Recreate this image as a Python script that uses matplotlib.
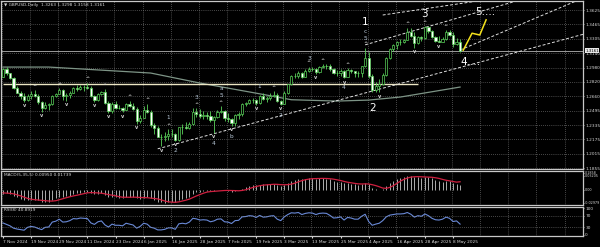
import numpy as np
import matplotlib
matplotlib.use("Agg")
import matplotlib.pyplot as plt
import matplotlib.transforms as mtransforms

# GBPUSD daily bars, 7 Nov 2024 .. 12 May 2025
opens = [1.2880,1.2960,1.2915,1.2860,1.2750,1.2700,1.2665,1.2615,1.2665,1.2680,
         1.2660,1.2590,1.2530,1.2565,1.2570,1.2665,1.2685,1.2730,1.2665,1.2670,
         1.2700,1.2750,1.2745,1.2765,1.2760,1.2755,1.2660,1.2620,1.2685,1.2705,
         1.2580,1.2495,1.2575,1.2530,1.2530,1.2505,1.2575,1.2550,1.2515,1.2380,
         1.2420,1.2510,1.2480,1.2340,1.2300,1.2205,1.2200,1.2210,1.2240,1.2240,
         1.2170,1.2310,1.2320,1.2305,1.2350,1.2480,1.2465,1.2435,1.2450,1.2440,
         1.2395,1.2425,1.2480,1.2495,1.2410,1.2405,1.2360,1.2445,1.2455,1.2575,
         1.2585,1.2620,1.2615,1.2585,1.2665,1.2630,1.2635,1.2665,1.2675,1.2605,
         1.2575,1.2700,1.2795,1.2890,1.2885,1.2920,1.2880,1.2940,1.2965,1.2960,
         1.2935,1.2990,1.3000,1.2995,1.2965,1.2915,1.2920,1.2945,1.2880,1.2950,
         1.2940,1.2915,1.2915,1.2995,1.3090,1.2890,1.2730,1.2770,1.2800,1.2895,
         1.3085,1.3190,1.3230,1.3265,1.3265,1.3290,1.3380,1.3335,1.3255,1.3325,
         1.3310,1.3440,1.3395,1.3325,1.3280,1.3270,1.3300,1.3380,1.3345,1.3245,
         1.3263]
highs = [1.2975,1.2990,1.2920,1.2870,1.2770,1.2715,1.2690,1.2680,1.2715,1.2725,
         1.2680,1.2610,1.2600,1.2585,1.2675,1.2700,1.2750,1.2735,1.2700,1.2720,
         1.2765,1.2780,1.2785,1.2785,1.2810,1.2770,1.2670,1.2690,1.2720,1.2740,
         1.2610,1.2590,1.2605,1.2560,1.2540,1.2580,1.2610,1.2580,1.2535,1.2445,
         1.2550,1.2575,1.2500,1.2355,1.2325,1.2240,1.2260,1.2290,1.2290,1.2250,
         1.2315,1.2345,1.2375,1.2370,1.2525,1.2525,1.2520,1.2490,1.2480,1.2490,
         1.2440,1.2505,1.2550,1.2510,1.2475,1.2410,1.2465,1.2480,1.2585,1.2600,
         1.2630,1.2640,1.2625,1.2675,1.2690,1.2660,1.2690,1.2715,1.2690,1.2620,
         1.2720,1.2800,1.2900,1.2920,1.2945,1.2935,1.2965,1.2990,1.2985,1.2970,
         1.3000,1.3015,1.3015,1.3015,1.2975,1.2955,1.2960,1.2955,1.2970,1.2965,
         1.2945,1.2945,1.3000,1.3205,1.3150,1.2905,1.2820,1.2850,1.2920,1.3100,
         1.3200,1.3245,1.3275,1.3295,1.3300,1.3425,1.3425,1.3375,1.3335,1.3335,
         1.3445,1.3445,1.3400,1.3335,1.3330,1.3325,1.3400,1.3400,1.3375,1.3310,
         1.3298]
lows = [1.2875,1.2900,1.2855,1.2740,1.2690,1.2630,1.2600,1.2605,1.2625,1.2645,
        1.2575,1.2487,1.2520,1.2510,1.2560,1.2650,1.2680,1.2620,1.2610,1.2640,
        1.2690,1.2715,1.2730,1.2715,1.2735,1.2650,1.2600,1.2610,1.2670,1.2570,
        1.2475,1.2475,1.2520,1.2515,1.2480,1.2500,1.2540,1.2500,1.2350,1.2360,
        1.2415,1.2475,1.2320,1.2240,1.2200,1.2100,1.2160,1.2170,1.2200,1.2160,
        1.2160,1.2240,1.2290,1.2290,1.2340,1.2425,1.2410,1.2405,1.2405,1.2370,
        1.2250,1.2420,1.2470,1.2380,1.2375,1.2330,1.2330,1.2400,1.2440,1.2550,
        1.2570,1.2580,1.2560,1.2570,1.2615,1.2600,1.2615,1.2650,1.2590,1.2560,
        1.2570,1.2680,1.2780,1.2865,1.2860,1.2860,1.2870,1.2930,1.2940,1.2910,
        1.2925,1.2970,1.2965,1.2940,1.2910,1.2890,1.2890,1.2860,1.2875,1.2915,
        1.2875,1.2880,1.2880,1.2990,1.2860,1.2710,1.2710,1.2705,1.2790,1.2890,
        1.3080,1.3165,1.3190,1.3230,1.3255,1.3285,1.3320,1.3205,1.3245,1.3275,
        1.3300,1.3370,1.3315,1.3265,1.3265,1.3265,1.3290,1.3335,1.3215,1.3235,
        1.3158]
closes = [1.2960,1.2915,1.2860,1.2750,1.2700,1.2665,1.2615,1.2665,1.2680,1.2660,
          1.2590,1.2530,1.2565,1.2570,1.2665,1.2685,1.2730,1.2665,1.2670,1.2700,
          1.2750,1.2745,1.2765,1.2760,1.2755,1.2660,1.2620,1.2685,1.2705,1.2580,
          1.2495,1.2575,1.2530,1.2530,1.2505,1.2575,1.2550,1.2515,1.2380,1.2420,
          1.2510,1.2480,1.2340,1.2300,1.2205,1.2200,1.2210,1.2240,1.2240,1.2170,
          1.2310,1.2320,1.2305,1.2350,1.2480,1.2465,1.2435,1.2450,1.2440,1.2395,
          1.2425,1.2480,1.2495,1.2410,1.2405,1.2360,1.2445,1.2455,1.2575,1.2585,
          1.2620,1.2615,1.2585,1.2665,1.2630,1.2635,1.2665,1.2675,1.2605,1.2575,
          1.2700,1.2795,1.2890,1.2885,1.2920,1.2880,1.2940,1.2965,1.2960,1.2935,
          1.2990,1.3000,1.2995,1.2965,1.2915,1.2920,1.2945,1.2880,1.2950,1.2940,
          1.2915,1.2915,1.2995,1.3090,1.2890,1.2730,1.2770,1.2800,1.2895,1.3085,
          1.3190,1.3230,1.3265,1.3265,1.3290,1.3380,1.3335,1.3255,1.3325,1.3310,
          1.3440,1.3395,1.3325,1.3280,1.3270,1.3300,1.3380,1.3345,1.3245,1.3265,
          1.3161]

# MACD(5,35,5): main (histogram) and signal, in units of 0.001
macd_main = [-8.0,-7.5,-9.0,-12.5,-16.0,-19.0,-22.0,-22.0,-21.5,-21.0,
             -22.5,-25.0,-25.5,-25.5,-22.0,-18.5,-15.0,-14.5,-13.8,-12.2,
             -9.5,-7.8,-5.9,-4.8,-4.2,-6.4,-9.1,-8.7,-7.7,-10.4,
             -14.7,-14.8,-16.0,-16.4,-17.2,-15.3,-14.5,-14.6,-18.2,-19.0,
             -16.7,-15.7,-18.5,-21.2,-25.0,-27.1,-27.7,-26.8,-25.6,-26.3,
             -22.4,-19.2,-17.3,-14.5,-8.8,-5.6,-4.3,-3.0,-2.3,-3.1,
             -2.8,-1.0,0.6,-0.8,-1.8,-3.7,-2.4,-1.3,2.8,5.6,
             8.2,9.6,9.5,11.5,11.6,11.7,12.3,12.7,10.7,8.4,
             10.3,13.9,18.4,20.8,23.0,22.9,24.0,24.9,25.0,23.9,
             24.4,24.6,24.0,22.4,19.6,17.6,16.7,14.0,13.9,13.4,
             12.1,11.1,12.4,15.6,11.8,4.7,1.3,0.0,1.8,8.2,
             15.0,20.1,23.8,25.7,27.2,30.1,30.1,27.4,27.1,26.0,
             28.3,28.1,25.4,22.1,19.2,17.9,18.9,18.3,14.8,12.9,
             9.5]
macd_signal = [-6.5,-7.0,-7.5,-8.5,-10.6,-12.8,-15.7,-18.3,-20.1,-21.1,
               -21.8,-22.4,-23.1,-23.9,-24.1,-23.3,-21.3,-19.1,-16.8,-14.8,
               -13.0,-11.6,-9.8,-8.0,-6.4,-5.8,-6.1,-6.6,-7.2,-8.5,
               -10.1,-11.3,-12.7,-14.5,-15.8,-15.9,-15.9,-15.6,-16.0,-16.3,
               -16.6,-16.8,-17.6,-18.2,-19.4,-21.5,-23.9,-25.6,-26.4,-26.7,
               -25.8,-24.1,-22.2,-19.9,-16.4,-13.1,-10.1,-7.2,-4.8,-3.7,
               -3.1,-2.4,-1.7,-1.4,-1.2,-1.3,-1.6,-2.0,-1.3,0.2,
               2.6,5.0,7.1,8.9,10.1,10.8,11.3,12.0,11.8,11.2,
               10.9,11.2,12.3,14.4,17.3,19.8,21.8,23.1,24.0,24.1,
               24.4,24.6,24.4,23.9,23.0,21.6,20.1,18.1,16.4,15.1,
               14.0,12.9,12.6,12.9,12.6,11.1,9.2,6.7,3.9,3.2,
               5.3,9.0,13.8,18.6,22.4,25.4,27.4,28.1,28.4,28.1,
               27.8,27.4,27.0,26.0,24.6,22.5,20.7,19.3,17.8,16.6,
               17.4]
rsi = [45,40,35,27,24,22,20,30,33,31,
       26,22,30,31,48,51,58,48,49,53,
       60,59,62,61,60,45,40,49,52,38,
       31,41,37,37,35,44,41,38,27,33,
       44,41,30,27,21,21,23,28,28,23,
       42,44,42,48,61,59,55,56,55,49,
       52,58,59,49,48,43,53,54,66,67,
       70,69,64,71,65,66,69,70,58,53,
       66,74,80,79,81,74,78,80,79,74,
       78,79,78,71,62,63,66,55,64,62,
       58,58,68,75,50,37,41,44,53,66,
       72,74,76,76,77,81,75,65,70,68,
       76,70,61,56,55,58,65,61,50,52,
       41]

# 100-period moving average, vertices
ma_bars = [0, 13, 42, 56, 75, 82, 95, 104, 113, 130]
ma_vals = [1.2986, 1.2986, 1.2919, 1.2807, 1.2672, 1.2620, 1.2605, 1.2616, 1.2650, 1.2762]

# drawn objects (trend lines given by their two end points: bar, price)
level_price = 1.2795
level_bars = [0, 118]
trend_lines = [([44, 165], [1.2070, 1.3353]),     # long support line
               ([103, 146], [1.3235, 1.3726]),    # channel top from wave 1
               ([108, 135], [1.3569, 1.3726]),    # upper line over wave 3
               ([130, 163], [1.3177, 1.3726])]    # line from wave 4
proj_bars = [130.9, 133.4, 135.6, 137.4]
proj_vals = [1.3175, 1.3365, 1.3345, 1.3515]

up_fractals = [9, 16, 24, 29, 36, 41, 47, 55, 62, 77, 87, 91, 98, 103, 115, 120, 126]
down_fractals = [6, 11, 18, 26, 30, 34, 38, 45, 49, 60, 65, 72, 79, 89, 97, 107, 117, 124]

# small wave marks: text, bar, above/below, offset in px
small_waves = [('1', 47, 'hi', 12), ('2', 49, 'lo', 10), ('3', 55, 'hi', 11), ('4', 60, 'lo', 11),
               ('5', 62, 'hi', 10), ('a', 62, 'hi', 17), ('b', 65, 'lo', 11), ('1', 73, 'hi', 8),
               ('2', 79, 'lo', 10), ('3', 87, 'hi', 8), ('4', 97, 'lo', 9),
               ('5', 103, 'hi', 9), ('c', 103, 'hi', 16)]
big_waves = [('1', 103, 'hi', 26), ('2', 105, 'lo', 16), ('3', 120, 'hi', 12), ('4....', 130, 'lo', 10)]

price_ticks = [1.3625, 1.3465, 1.3305, 1.3140, 1.2980, 1.2820, 1.2660, 1.2495, 1.2335, 1.2175, 1.2015, 1.1855]
dates = ['7 Nov 2024', '19 Nov 2024', '29 Nov 2024', '11 Dec 2024', '23 Dec 2024', '6 Jan 2025',
         '16 Jan 2025', '28 Jan 2025', '7 Feb 2025', '19 Feb 2025', '3 Mar 2025', '13 Mar 2025',
         '25 Mar 2025', '4 Apr 2025', '16 Apr 2025', '28 Apr 2025', '8 May 2025']
date_bars = [0, 8, 16, 24, 32, 40, 48, 56, 64, 72, 80, 88, 96, 104, 112, 120, 128]
grid_bars = [0, 8, 16, 24, 32, 40, 48, 56, 64, 72, 80, 88, 96, 104, 112, 120, 128, 136, 144, 152, 160]

opens = np.array(opens); highs = np.array(highs); lows = np.array(lows); closes = np.array(closes)
x = np.arange(len(closes))

W, H = 600.0, 247.0
def box(x0, y0, x1, y1):
    return [x0 / W, 1 - y1 / H, (x1 - x0) / W, (y1 - y0) / H]

fig = plt.figure(figsize=(6.0, 2.47), dpi=100, facecolor='black')
ax = fig.add_axes(box(1, 1, 583, 169))
am = fig.add_axes(box(1, 171, 583, 205), sharex=ax)
ar = fig.add_axes(box(1, 207, 583, 236), sharex=ax)

txt = '#d8d8d8'
gridc = '#8c8c8c'
fs = 3.1
for a in (ax, am, ar):
    a.set_facecolor('black')
    for s in a.spines.values():
        s.set_color('#c8c8c8')
        s.set_linewidth(0.9)
    a.yaxis.tick_right()
    a.tick_params(axis='y', labelsize=fs, colors=txt, length=1, width=0.5, pad=0.6)
    a.tick_params(axis='x', length=0, labelbottom=False)
    for g in grid_bars:
        a.axvline(g - 0.3, color=gridc, lw=0.5, ls=(0, (1, 2)), zorder=0)
ax.set_xlim(-0.57, 164.96)

# ---- main price panel
ax.set_ylim(1.1844, 1.3726)
ax.set_yticks(price_ticks)
ax.set_yticklabels(['%.4f' % p for p in price_ticks])
for p in price_ticks:
    ax.axhline(p, color=gridc, lw=0.5, ls=(0, (1, 2)), zorder=0)

green = '#5ad25a'
ax.plot(ma_bars, ma_vals, color='#7d9486', lw=0.9, zorder=1)
ax.hlines(level_price, level_bars[0], level_bars[1], color='#ece6c4', lw=1.0, zorder=1)
ax.axhline(closes[-1], color='#b4b4b4', lw=0.6, zorder=1)
for tb, tv in trend_lines:
    ax.plot(tb, tv, color='#e0e0e0', lw=0.7, ls=(0, (3, 2)), zorder=1)

up = closes >= opens
ax.vlines(x, lows, highs, color=green, lw=0.6, zorder=2)
ax.bar(x[up], (closes - opens)[up], bottom=opens[up], width=0.62, color='black',
       edgecolor=green, linewidth=0.5, zorder=3)
ax.bar(x[~up], (opens - closes)[~up], bottom=closes[~up], width=0.62, color='white',
       edgecolor=green, linewidth=0.5, zorder=3)

ax.plot(proj_bars, proj_vals, color='#f4e21c', lw=1.1, zorder=4)

for i in up_fractals:
    ax.annotate('^', (i, highs[i]), xytext=(0, 1), textcoords='offset points',
                ha='center', va='bottom', fontsize=3.6, color='#d0d0d0', fontweight='bold')
for i in down_fractals:
    ax.annotate('v', (i, lows[i]), xytext=(0, -1), textcoords='offset points',
                ha='center', va='top', fontsize=3.6, color='#d0d0d0', fontweight='bold')

px = 0.72
for t, i, side, off in small_waves:
    yv = highs[i] if side == 'hi' else lows[i]
    sgn = 1 if side == 'hi' else -1
    ax.annotate(t, (i, yv), xytext=(0, sgn * off * px), textcoords='offset points',
                ha='center', va='center', fontsize=4.2, color='#b8c8d8')
for t, i, side, off in big_waves:
    yv = highs[i] if side == 'hi' else lows[i]
    sgn = 1 if side == 'hi' else -1
    ax.annotate(t, (i, yv), xytext=(0, sgn * off * px), textcoords='offset points',
                ha='left' if len(t) > 1 else 'center', va='center', fontsize=7.5, color='white')
ax.annotate('5....', (proj_bars[-1], proj_vals[-1]), xytext=(-8, 6), textcoords='offset points',
            ha='left', va='center', fontsize=7.5, color='white')

ax.text(0.006, 0.988, '\u25bc GBPUSD,Daily  1.3263 1.3298 1.3158 1.3161', transform=ax.transAxes,
        ha='left', va='top', fontsize=fs, color=txt)
tr = mtransforms.blended_transform_factory(ax.transAxes, ax.transData)
ax.text(1.004, closes[-1] + 0.0008, '%.4f' % closes[-1], transform=tr, ha='left', va='center', zorder=6,
        fontsize=2.9, color='black', bbox=dict(boxstyle='square,pad=0.1', fc='#e8e8e8', ec='none'))

# ---- MACD panel
am.set_ylim(-32.5, 40.5)
am.vlines(x, 0, macd_main, color='#c8c8c8', lw=0.6)
am.plot(x, macd_signal, color='#d02040', lw=0.9)
am.set_yticks([37.0, 30.5, 0.0, -27.5])
am.set_yticklabels(['0.1858', '0.03205', '0.00', '-0.02979'])
am.tick_params(axis='y', labelsize=2.4, pad=0.2)
am.text(0.006, 0.93, 'MACD(5,35,5) 0.00950 0.01739', transform=am.transAxes,
        ha='left', va='top', fontsize=fs, color=txt)

# ---- RSI panel
ar.set_ylim(0, 100)
ar.plot(x, rsi, color='#6a8ad8', lw=0.8)
for lv in (70, 30):
    ar.axhline(lv, color=gridc, lw=0.5, ls=(0, (1, 2)))
ar.set_yticks([95, 70, 30, 5])
ar.set_yticklabels(['100', '70', '30', '0'])
ar.text(0.006, 0.95, 'RSI(8) 40.8919', transform=ar.transAxes,
        ha='left', va='top', fontsize=fs, color=txt)

ar.set_xticks(date_bars)
ar.set_xticklabels(dates)
ar.tick_params(axis='x', labelbottom=True, labelsize=fs, colors=txt, length=1.5, pad=1.5)
for lab in ar.get_xticklabels():
    lab.set_ha('left')

fig.savefig('out.png', dpi=100, facecolor='black')
